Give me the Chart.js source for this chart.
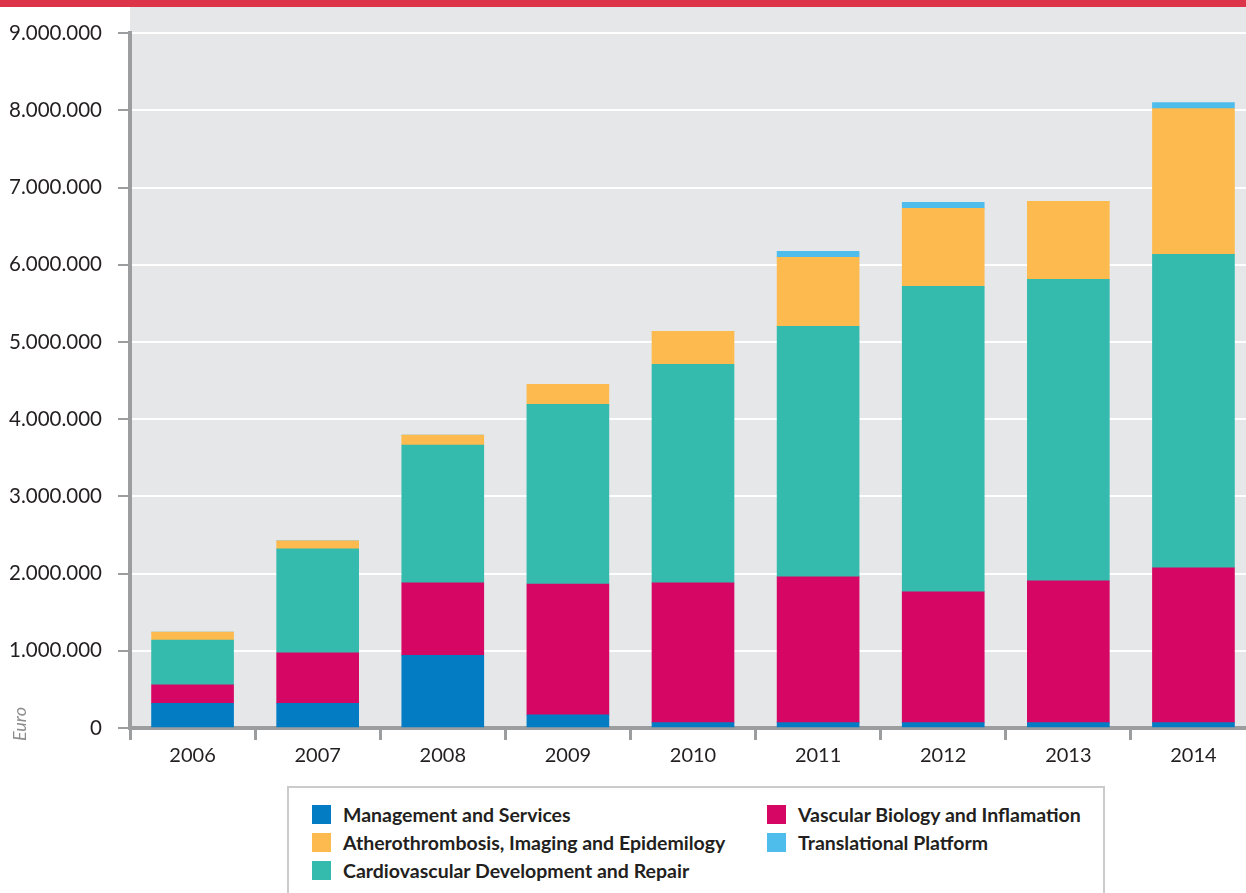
<!DOCTYPE html>
<html>
<head>
<meta charset="utf-8">
<script src="https://cdn.jsdelivr.net/npm/chart.js@4/dist/chart.umd.min.js"></script>
<style>
  body { margin: 0; background: #fff; overflow: hidden; width: 1246px; height: 893px; position: relative; }
  #topbar { position: absolute; left: 0; top: 0; width: 1246px; height: 7px; background: #dc3549; }
  #wrap { position: absolute; left: 0; top: 5px; }
  #euro { position: absolute; left: 19px; top: 724px; transform: translate(-50%, -50%) rotate(-90deg);
          font: italic 18px Lato, sans-serif; color: #8c8c8c; }
  #legend { position: absolute; left: 287px; top: 786px; width: 818px; height: 140px;
            border: 2px solid #cbcbcb; background: #fff; box-sizing: border-box; }
  .item { position: absolute; font: bold 19.5px Lato, sans-serif; color: #231f20; white-space: nowrap; }
  .item span { position: absolute; top: 2px; width: 19px; height: 19px; left: -31px; }
</style>
</head>
<body>
<div id="wrap"><canvas id="chart" width="1256" height="775"></canvas></div>
<div id="topbar"></div>
<div id="euro">Euro</div>
<div id="legend"></div>
<script>
// values in euro
const years = ['2006', '2007', '2008', '2009', '2010', '2011', '2012', '2013', '2014'];
const management = [320000, 320000, 940000, 170000, 70000, 70000, 70000, 70000, 70000];
const vascular = [240000, 655000, 940000, 1695000, 1810000, 1887000, 1693000, 1836000, 2004000];
const cardio = [580000, 1346000, 1785000, 2328000, 2833000, 3247000, 3959000, 3907000, 4062000];
const athero = [104000, 103000, 130000, 260000, 427000, 893000, 1009000, 1009000, 1888000];
const translational = [0, 0, 0, 0, 0, 78000, 78000, 0, 78000];

const seriesNames = ['Management and Services', 'Vascular Biology and Inflamation',
  'Cardiovascular Development and Repair', 'Atherothrombosis, Imaging and Epidemilogy', 'Translational Platform'];
const seriesColors = ['#037cc4', '#d60764', '#34bbae', '#fdba4f', '#4fbdec'];
const seriesData = [management, vascular, cardio, athero, translational];

const axisGray = '#9c9d9f';

// grey plot background, reaching up under the red bar
const plotBg = {
  id: 'plotBg',
  beforeDraw(chart) {
    const a = chart.chartArea, ctx = chart.ctx;
    ctx.save();
    ctx.fillStyle = '#e6e7e9';
    ctx.fillRect(a.left, 1, a.right - a.left, a.bottom - 1);
    ctx.restore();
  }
};

function dots(v) {
  return String(v).replace(/\B(?=(\d{3})+(?!\d))/g, '.');
}

new Chart(document.getElementById('chart'), {
  type: 'bar',
  data: {
    labels: years,
    datasets: seriesData.map((d, i) => ({
      label: seriesNames[i],
      data: d,
      backgroundColor: seriesColors[i],
      borderWidth: 0,
      barThickness: 82
    }))
  },
  options: {
    responsive: false,
    devicePixelRatio: 1,
    animation: false,
    layout: { padding: { top: 28, right: 0, left: 0, bottom: 0 } },
    plugins: { legend: { display: false }, tooltip: { enabled: false } },
    scales: {
      x: {
        stacked: true,
        afterFit(scale) { scale.height = 775 - 723; },
        grid: { offset: true, drawOnChartArea: false, tickLength: 12, tickColor: axisGray, tickWidth: 3 },
        border: { color: axisGray, width: 4 },
        ticks: { color: '#231f20', font: { family: 'Lato', size: 20 }, padding: 4 }
      },
      y: {
        stacked: true,
        min: 0,
        max: 9000000,
        afterFit(scale) { scale.width = 130; },
        grid: { color: '#ffffff', lineWidth: 2, tickLength: 12, tickColor: axisGray, tickWidth: 2 },
        border: { color: axisGray, width: 4 },
        ticks: { stepSize: 1000000, color: '#231f20', font: { family: 'Lato', size: 20.5 }, padding: 16,
                 callback: v => dots(v) }
      }
    }
  },
  plugins: [plotBg]
});

// legend in two columns like the original
const legendPos = [[54, 0], [509, 0], [54, 1], [509, 1], [54, 2]];
const legendOrder = [0, 1, 3, 4, 2];
const legend = document.getElementById('legend');
legendOrder.forEach((s, k) => {
  const div = document.createElement('div');
  div.className = 'item';
  div.style.left = legendPos[k][0] + 'px';
  div.style.top = (15 + legendPos[k][1] * 28) + 'px';
  div.innerHTML = '<span style="background:' + seriesColors[s] + '"></span>' + seriesNames[s];
  legend.appendChild(div);
});
</script>
</body>
</html>
